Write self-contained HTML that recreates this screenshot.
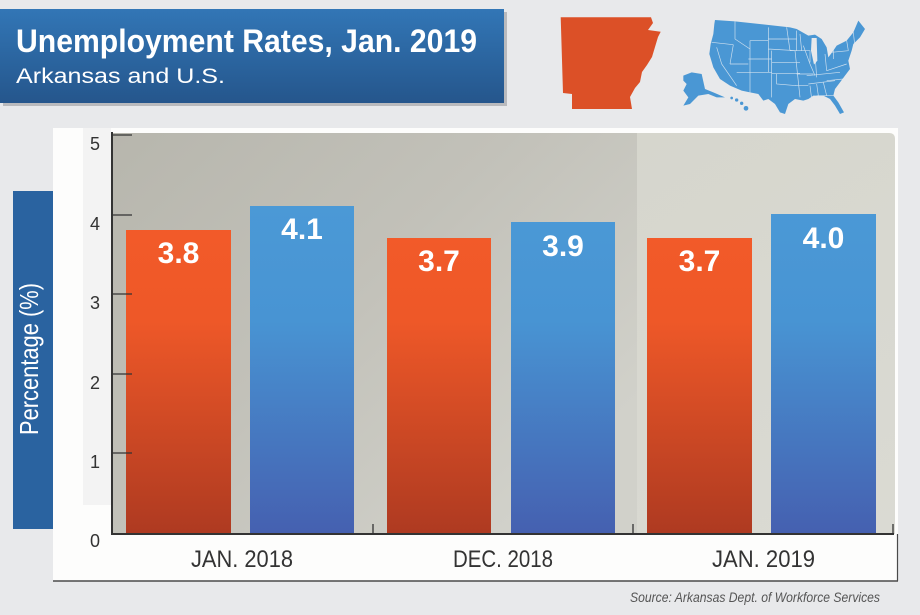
<!DOCTYPE html>
<html><head><meta charset="utf-8">
<style>
html,body{margin:0;padding:0;background:#e8e9eb;}
svg{display:block;}
</style></head>
<body>
<svg width="920" height="615" viewBox="0 0 920 615" xmlns="http://www.w3.org/2000/svg" font-family="Liberation Sans, Arial, sans-serif">
<defs>
<linearGradient id="tg" x1="0" y1="0" x2="0" y2="1">
<stop offset="0" stop-color="#3276b6"/><stop offset="1" stop-color="#25568c"/>
</linearGradient>
<linearGradient id="og" gradientUnits="userSpaceOnUse" x1="0" y1="230" x2="0" y2="534">
<stop offset="0" stop-color="#f25a29"/><stop offset="0.3" stop-color="#ee5828"/><stop offset="1" stop-color="#ae3a21"/>
</linearGradient>
<linearGradient id="bg" gradientUnits="userSpaceOnUse" x1="0" y1="206" x2="0" y2="534">
<stop offset="0" stop-color="#4b99d6"/><stop offset="0.35" stop-color="#4894d3"/><stop offset="1" stop-color="#4560b0"/>
</linearGradient>
<linearGradient id="pl" gradientUnits="userSpaceOnUse" x1="112" y1="133" x2="500" y2="534">
<stop offset="0" stop-color="#b7b6ad"/><stop offset="0.5" stop-color="#c2c1b9"/><stop offset="1" stop-color="#d1d1ca"/>
</linearGradient>
<linearGradient id="pr" gradientUnits="userSpaceOnUse" x1="637" y1="133" x2="895" y2="534">
<stop offset="0" stop-color="#d6d6cd"/><stop offset="1" stop-color="#dadad3"/>
</linearGradient>
</defs>

<!-- title box -->
<rect x="3" y="12" width="504" height="94" fill="#9a9b9e" opacity="0.6"/>
<rect x="0" y="9" width="504" height="94" fill="url(#tg)"/>
<text x="16" y="52" font-size="32" font-weight="bold" fill="#ffffff" textLength="461" lengthAdjust="spacingAndGlyphs">Unemployment Rates, Jan. 2019</text>
<text x="16" y="83" font-size="21" fill="#ffffff" textLength="209" lengthAdjust="spacingAndGlyphs">Arkansas and U.S.</text>

<!-- Arkansas -->
<polygon fill="#dc5027" points="560.7,17.3 651,17.3 653,23 648,30 660.7,31.7 658,37 655,47 652,57 647,65 642,72 640,82 635,88 630,97 632,109 572,109 572,94 563,93"/>

<!-- US map (zoom coordinates scaled) -->
<g transform="translate(680,14) scale(0.33333)">
<g fill="#4a97d4">
<polygon points="105,18 165,22 330,40 350,45 385,65 405,62 425,75 440,100 445,130 460,110 470,95 500,80 520,55 535,20 555,45 540,70 520,90 515,110 505,140 510,165 495,185 480,205 465,225 460,245 475,265 492,295 480,300 465,275 450,255 430,245 400,245 385,255 370,260 345,255 325,270 315,300 300,295 285,270 265,255 250,260 235,240 210,235 185,230 150,215 120,195 100,160 88,120 92,90 100,60 103,30"/>
<polygon points="10,185 35,175 65,180 75,225 100,235 135,250 110,250 85,240 55,245 30,270 10,275 25,250 10,230 20,210 10,200"/>
<circle cx="155" cy="252" r="4"/><circle cx="170" cy="258" r="5"/><circle cx="185" cy="268" r="5"/><circle cx="198" cy="283" r="7"/>
</g>
<polygon fill="#e8e9eb" points="395,72 410,72 412,140 402,152 393,110"/>
<g stroke="#dde8f2" stroke-width="2" fill="none" opacity="0.9">
<path d="M95,85 L160,92 M165,22 L165,75 L210,105 M160,92 L150,150 M110,100 L125,150 L170,215 M150,150 L205,150 M210,80 L210,205 M205,135 L275,135 M275,110 L275,250 M170,175 L275,175 M210,175 L210,240 M210,80 L265,80 M265,40 L265,175 M265,75 L350,75 M265,105 L350,110 M275,145 L360,145 M275,178 L360,178 M290,180 L290,210 L350,215 M320,40 L330,110 M350,50 L350,110 M345,110 L360,250 M350,180 L400,180 M345,215 L385,215 M330,110 L390,110 L390,145 M370,95 L390,150 L405,185 M405,120 L410,190 M435,120 L440,170 M380,185 L480,175 M385,210 L465,200 M390,215 L395,255 M410,210 L415,245 M430,205 L440,245 M410,245 L460,245 M440,200 L490,195 M440,170 L500,150 M455,115 L505,110 M460,95 L460,135 M500,80 L505,110 M520,55 L525,100 M360,60 L365,110"/>
</g>
</g>

<!-- y axis title box -->
<rect x="13" y="191" width="40" height="338" fill="#2a63a0"/>
<text transform="translate(38,435) rotate(-90)" font-size="26" fill="#ffffff" textLength="152" lengthAdjust="spacingAndGlyphs">Percentage (%)</text>

<!-- card -->
<rect x="53" y="128" width="845" height="453" fill="#fdfdfc"/>
<rect x="83" y="128" width="28" height="377" fill="#f3f3f3"/>
<line x1="53" y1="581" x2="898" y2="581" stroke="#4a4a4a" stroke-width="1.5"/>
<line x1="897.5" y1="534" x2="897.5" y2="581" stroke="#4a4a4a" stroke-width="1.2"/>

<!-- plot area -->
<rect x="112" y="133" width="525" height="401" fill="url(#pl)"/>
<path d="M637,133 L889,133 Q895,133 895,139 L895,534 L637,534 Z" fill="url(#pr)"/>

<!-- bars -->
<rect x="126" y="230" width="105" height="304" fill="url(#og)"/>
<rect x="250" y="206" width="104" height="328" fill="url(#bg)"/>
<rect x="387" y="238" width="104" height="296" fill="url(#og)"/>
<rect x="511" y="222" width="104" height="312" fill="url(#bg)"/>
<rect x="647" y="238" width="105" height="296" fill="url(#og)"/>
<rect x="771" y="214" width="105" height="320" fill="url(#bg)"/>

<!-- value labels -->
<g font-size="30" font-weight="bold" fill="#ffffff" text-anchor="middle">
<text x="178.5" y="263">3.8</text>
<text x="302" y="239">4.1</text>
<text x="439" y="271">3.7</text>
<text x="563" y="256">3.9</text>
<text x="699.5" y="271">3.7</text>
<text x="823.5" y="248">4.0</text>
</g>

<!-- axes -->
<g stroke="#333" fill="none">
<line x1="112" y1="132" x2="112" y2="535" stroke-width="2"/>
<line x1="111" y1="534" x2="894" y2="534" stroke-width="2"/>
<line x1="112" y1="135" x2="132" y2="135" stroke-width="1.3"/>
<line x1="112" y1="215" x2="132" y2="215" stroke-width="1.3"/>
<line x1="112" y1="294" x2="132" y2="294" stroke-width="1.3"/>
<line x1="112" y1="374" x2="132" y2="374" stroke-width="1.3"/>
<line x1="112" y1="453" x2="132" y2="453" stroke-width="1.3"/>
<line x1="373" y1="524" x2="373" y2="534" stroke-width="1.3"/>
<line x1="633" y1="524" x2="633" y2="534" stroke-width="1.3"/>
<line x1="893" y1="524" x2="893" y2="534" stroke-width="1.3"/>
</g>
<g font-size="18" fill="#333" text-anchor="middle">
<text x="95" y="150">5</text>
<text x="95" y="230">4</text>
<text x="95" y="309">3</text>
<text x="95" y="389">2</text>
<text x="95" y="468">1</text>
<text x="95" y="547">0</text>
</g>

<!-- category labels -->
<g font-size="24" fill="#333">
<text x="191" y="567" textLength="102" lengthAdjust="spacingAndGlyphs">JAN. 2018</text>
<text x="453" y="567" textLength="100" lengthAdjust="spacingAndGlyphs">DEC. 2018</text>
<text x="712" y="567" textLength="103" lengthAdjust="spacingAndGlyphs">JAN. 2019</text>
</g>

<text x="630" y="602" font-size="14" font-style="italic" fill="#555" textLength="250" lengthAdjust="spacingAndGlyphs">Source: Arkansas Dept. of Workforce Services</text>
</svg>
</body></html>
